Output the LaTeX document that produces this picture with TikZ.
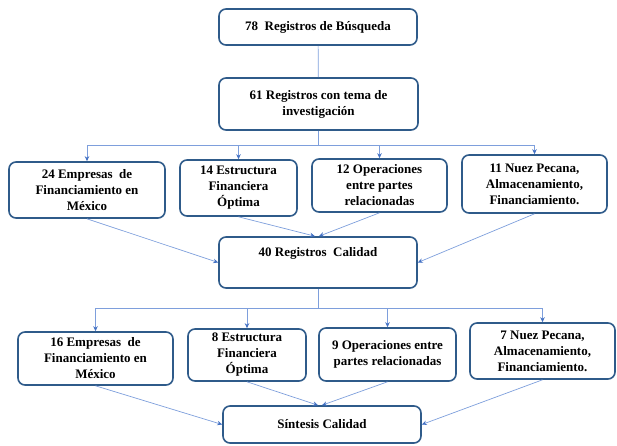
\documentclass[tikz,border=0pt]{standalone}
\usepackage{fontspec}
\setmainfont{Liberation Serif}
\usetikzlibrary{arrows.meta}
\definecolor{boxblue}{HTML}{2F5B8A}
\definecolor{linkblue}{HTML}{7E9FDC}
\definecolor{tipblue}{HTML}{4472C4}

\begin{document}
\begin{tikzpicture}[x=1pt,y=-1pt,
    caja/.style={draw=boxblue,line width=1.6pt,rounded corners=7pt,fill=white,
        align=center,inner sep=2pt,font=\fontsize{13}{16}\selectfont\bfseries},
    enlace/.style={draw=linkblue,line width=0.7pt,
        -{Stealth[length=5pt,width=4.5pt,color=tipblue]}},
    liso/.style={draw=linkblue,line width=0.7pt}]
    \useasboundingbox (0,0) rectangle (617,445);

    \node[caja,minimum width=198pt,minimum height=36pt] (reg78) at (318,27)
        {78~ Registros de Búsqueda};
    \node[caja,minimum width=199pt,minimum height=52pt] (reg61) at (318.5,104)
        {61 Registros con tema de\\investigación};

    \node[caja,minimum width=156pt,minimum height=56pt] (emp24) at (87,190)
        {24 Empresas~ de\\Financiamiento en\\México};
    \node[caja,minimum width=117pt,minimum height=56pt] (est14) at (238.5,188)
        {14 Estructura\\Financiera\\Óptima};
    \node[caja,minimum width=135pt,minimum height=53pt] (ope12) at (379.5,185.5)
        {12 Operaciones\\entre partes\\relacionadas};
    \node[caja,minimum width=145pt,minimum height=58pt] (nuez11) at (534.5,184)
        {11 Nuez Pecana,\\Almacenamiento,\\Financiamiento.};

    \node[caja,minimum width=198pt,minimum height=51pt] (cal40) at (318,262.5)
        {40 Registros~ Calidad\\[6pt]~};

    \node[caja,minimum width=155pt,minimum height=53pt] (emp16) at (95.5,358.5)
        {16 Empresas~ de\\Financiamiento en\\México};
    \node[caja,minimum width=118pt,minimum height=52pt] (est8) at (247,355)
        {8 Estructura\\Financiera\\Óptima};
    \node[caja,minimum width=137pt,minimum height=53pt] (ope9) at (387.5,354.5)
        {9 Operaciones entre\\partes relacionadas};
    \node[caja,minimum width=145pt,minimum height=56pt] (nuez7) at (542.5,351)
        {7 Nuez Pecana,\\Almacenamiento,\\Financiamiento.};

    \node[caja,minimum width=198pt,minimum height=37pt] (sintesis) at (322,424.5)
        {Síntesis Calidad};

    % first level
    \draw[liso] (reg78) -- (reg61);
    \coordinate (bus1) at ([yshift=-15pt]reg61.south);
    \foreach \n in {emp24,est14,ope12,nuez11}
        \draw[enlace] (reg61.south) -- (bus1) -| (\n.north);

    \draw[enlace] (emp24.south) -- (cal40.west);
    \draw[enlace] (est14.south) -- ([xshift=-3pt]cal40.north);
    \draw[enlace] (ope12.south) -- ([xshift=1pt]cal40.north);
    \draw[enlace] (nuez11.south) -- (cal40.east);

    % second level
    \coordinate (bus2) at ([yshift=-20pt]cal40.south);
    \foreach \n in {emp16,est8,ope9,nuez7}
        \draw[enlace] (cal40.south) -- (bus2) -| (\n.north);

    \draw[enlace] (emp16.south) -- (sintesis.west);
    \draw[enlace] (est8.south) -- ([xshift=-4pt]sintesis.north);
    \draw[enlace] (ope9.south) -- ([xshift=0pt]sintesis.north);
    \draw[enlace] (nuez7.south) -- (sintesis.east);
\end{tikzpicture}
\end{document}
